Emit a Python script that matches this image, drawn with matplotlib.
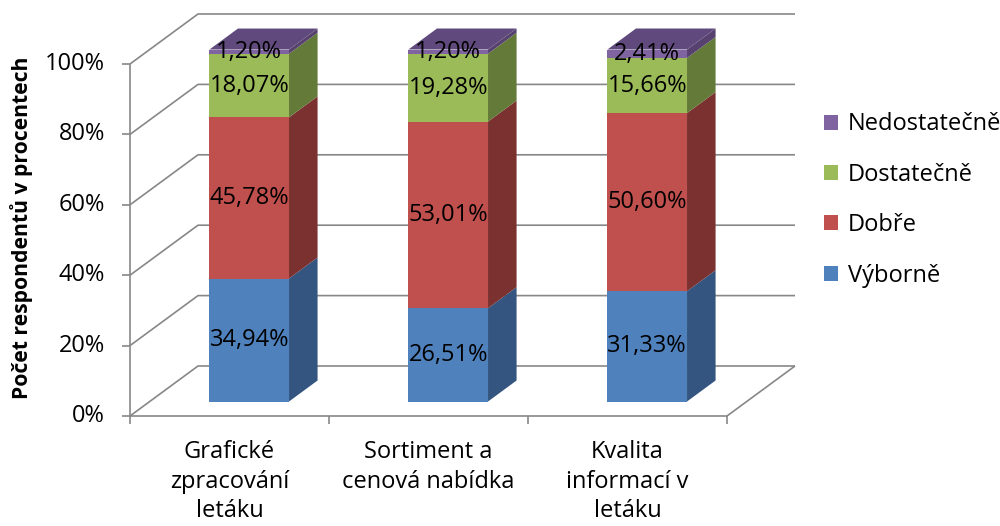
import matplotlib
matplotlib.use("Agg")
import matplotlib.pyplot as plt
from matplotlib.patches import Polygon, Patch

# ---- data ----
categories = ["Grafické\nzpracování\nletáku", "Sortiment a\ncenová nabídka", "Kvalita\ninformací v\nletáku"]
series_names = ["Výborně", "Dobře", "Dostatečně", "Nedostatečně"]
vyborne = [34.94, 26.51, 31.33]
dobre = [45.78, 53.01, 50.60]
dostatecne = [18.07, 19.28, 15.66]
nedostatecne = [1.20, 1.20, 2.41]
y_ticks = [0, 20, 40, 60, 80, 100]
y_title = "Počet respondentů v procentech"

series = [vyborne, dobre, dostatecne, nedostatecne]
front_cols = ["#4F81BD", "#C0504D", "#9BBB59", "#8064A2"]
side_cols = ["#34557F", "#7B3130", "#647A38", "#57416F"]
top_cols = ["#3E6596", "#96403E", "#7A9446", "#604A7D"]

FONT = "Open Sans"
FS = 17
W, H = 1000, 526
fig = plt.figure(figsize=(W / 100, H / 100), dpi=100)
# front plane of the 3D box (pixels -> figure fraction)
left, right, bottom_px, top_px = 130, 727, 416, 64
ax = fig.add_axes([left / W, 1 - bottom_px / H, (right - left) / W, (bottom_px - top_px) / H])
ax.set_xlim(0, len(categories))
ax.set_ylim(0, 100)
ax.axis("off")

# depth of the box in data units
px_per_cat = (right - left) / len(categories)
px_per_pct = (bottom_px - top_px) / 100.0
DX = 68 / px_per_cat
DY = 50 / px_per_pct


def P(x, v, d):
    return (x + d * DX, v + d * DY)


grid_kw = dict(color="#878787", lw=1.2, clip_on=False, zorder=1, solid_capstyle="butt")
ncat = len(categories)
# left wall + back wall gridlines
for t in y_ticks:
    xs, ys = zip(P(0, t, 0), P(0, t, 1), P(ncat, t, 1))
    ax.plot(xs, ys, **grid_kw)
# floor
xs, ys = zip(P(0, 0, 0), P(ncat, 0, 0), P(ncat, 0, 1))
ax.plot(xs, ys, **grid_kw)
# vertical axis
ax.plot([0, 0], [0, 100], **grid_kw)
# tick marks
tick_dx = 8 / px_per_cat
tick_dy = 8 / px_per_pct
for t in y_ticks:
    ax.plot([-tick_dx, 0], [t, t], **grid_kw)
    ax.text(-25 / px_per_cat, t, f"{t}%", ha="right", va="center", fontsize=FS, family=FONT, color="black")
for i in range(ncat + 1):
    ax.plot([i, i], [0, -tick_dy], **grid_kw)

# bars
bw = 0.40
d0, d1 = 0.29, 0.71
for i in range(ncat):
    cx = i + 0.5
    x0, x1 = cx - bw / 2, cx + bw / 2
    base = 0.0
    for s, vals in enumerate(series):
        v = vals[i]
        top = base + v
        side = Polygon([P(x1, base, d0), P(x1, base, d1), P(x1, top, d1), P(x1, top, d0)],
                       closed=True, facecolor=side_cols[s], edgecolor="none", clip_on=False, zorder=3)
        ax.add_patch(side)
        front = Polygon([P(x0, base, d0), P(x1, base, d0), P(x1, top, d0), P(x0, top, d0)],
                        closed=True, facecolor=front_cols[s], edgecolor="none", clip_on=False, zorder=4)
        ax.add_patch(front)
        if s == len(series) - 1:
            tp = Polygon([P(x0, top, d0), P(x1, top, d0), P(x1, top, d1), P(x0, top, d1)],
                         closed=True, facecolor=top_cols[s], edgecolor="none", clip_on=False, zorder=3)
            ax.add_patch(tp)
        lx, ly = P(cx, base + v / 2, d0)
        ax.text(lx, ly, f"{v:.2f}".replace(".", ",") + "%", ha="center", va="center",
                fontsize=FS, family=FONT, color="black", zorder=6)
        base = top

# category labels
for i, c in enumerate(categories):
    ax.annotate(c, xy=(i + 0.5, 0), xytext=(0, -17.5), textcoords="offset points",
                ha="center", va="top", fontsize=FS, family=FONT, linespacing=1.3,
                annotation_clip=False)

# y title
fig.text(22 / W, 1 - 228 / H, y_title, rotation=90, ha="center", va="center",
         fontsize=15.2, family=FONT, fontweight="bold")

# legend
handles = [Patch(facecolor=front_cols[s], edgecolor="none") for s in range(len(series))][::-1]
labels = series_names[::-1]
leg = fig.legend(handles, labels, loc="center left", bbox_to_anchor=(824 / W, 1 - 200 / H),
                 frameon=False, prop={"family": FONT, "size": FS}, handlelength=0.6,
                 handleheight=0.6, handletextpad=0.4, labelspacing=1.12,
                 borderpad=0, borderaxespad=0)

fig.savefig("out.png", dpi=100)
